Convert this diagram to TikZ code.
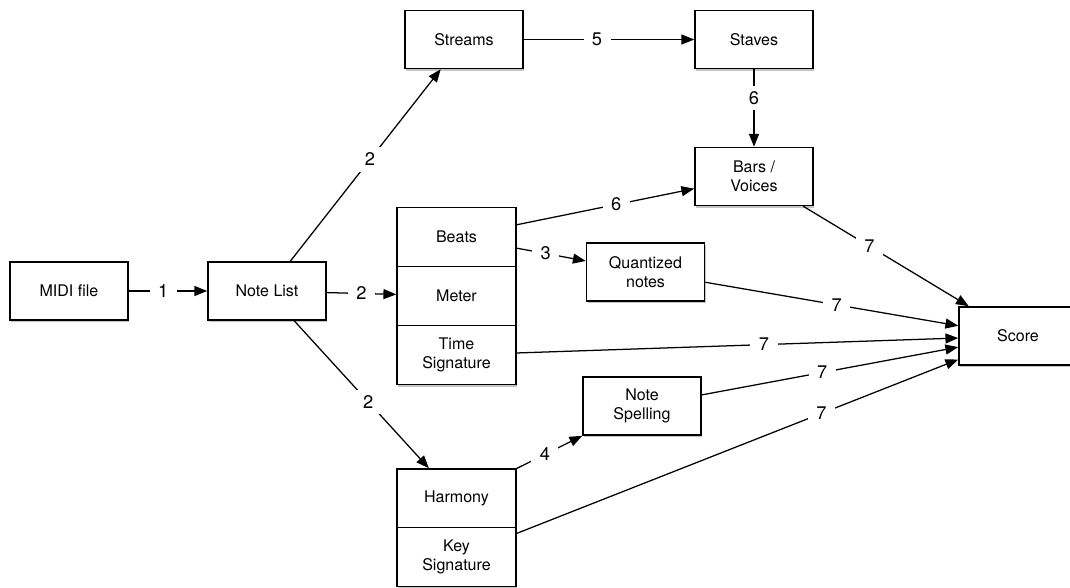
\documentclass[tikz,border=0pt]{standalone}
\usepackage{fontspec}
\setmainfont{TeX Gyre Heros}
\usepackage{tikz}
\usetikzlibrary{arrows.meta, positioning, shadows}
\tikzset{
  % Pipeline styles
  stage/.style={rectangle, minimum width=2.95cm, minimum height=1.45cm, draw=black, line width=1.1pt, fill=white, align=center, font=\fontsize{11.4}{13.5}\selectfont, drop shadow={shadow xshift=0.8pt, shadow yshift=-1.6pt, fill=black!45, opacity=0.5}},
  part/.style={stage, minimum width=2.975cm, minimum height=1.475cm},
  flow/.style={-{Triangle[length=3.2mm, width=2.5mm]}, line width=0.9pt},
  num/.style={fill=white, font=\fontsize{13}{13}\selectfont, inner xsep=6pt, inner ysep=4pt},
}
\begin{document}
\begin{tikzpicture}[x=0.025cm, y=-0.025cm]
    \useasboundingbox (0,0) rectangle (1070,587);

    % Input side
    \node[stage] (midi) at (69,291) {MIDI file};
    \node[stage] (notes) at (267,291) {Note List};

    % Upper branch
    \node[stage] (streams) at (464,39.5) {Streams};
    \node[stage] (staves) at (754,39.5) {Staves};
    \node[stage] (bars) at (754,176.5) {Bars /\\Voices};

    % Rhythm stack
    \node[part] (beats) at (456.5,237) {Beats};
    \node[part] (meter) at (456.5,296) {Meter};
    \node[part] (timesig) at (456.5,355) {Time\\Signature};
    \node[stage] (quant) at (645.5,272) {Quantized\\notes};

    % Pitch stack
    \node[stage] (spell) at (642,406) {Note\\Spelling};
    \node[part] (harmony) at (456.5,498.5) {Harmony};
    \node[part] (keysig) at (456.5,557) {Key\\Signature};

    % Output
    \node[stage] (score) at (1018,336) {Score};

    % Connections
    \draw[flow] (midi) -- node[num, pos=0.44] {1} (notes);
    \draw[flow] (notes) -- node[num, pos=0.5] {2} (meter);
    \draw[flow] (notes) -- node[num, pos=0.53] {2} (streams);
    \draw[flow] (notes) -- node[num, pos=0.55] {2} (harmony);
    \draw[flow] (streams) -- node[num, pos=0.43] {5} (staves);
    \draw[flow] (staves) -- node[num, pos=0.37] {6} (bars);
    \draw[flow] (beats) -- node[num, pos=0.56] {6} (bars);
    \draw[flow] (beats) -- node[num, pos=0.42] {3} (quant);
    \draw[flow] (harmony) -- node[num, pos=0.43] {4} (spell);
    \draw[flow] (bars) -- node[num, pos=0.4] {7} (score);
    \draw[flow] (quant) -- node[num, pos=0.52] {7} (score);
    \draw[flow] (timesig) -- node[num, pos=0.56] {7} (score);
    \draw[flow] (spell) -- node[num, pos=0.47] {7} (score);
    \draw[flow] (keysig) -- node[num, pos=0.69] {7} (score);
\end{tikzpicture}
\end{document}
